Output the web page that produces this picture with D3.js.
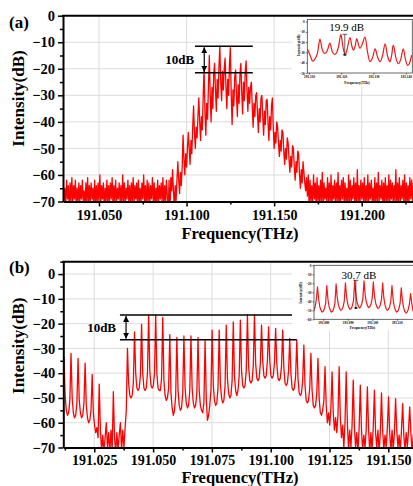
<!DOCTYPE html>
<html>
<head>
<meta charset="utf-8">
<script src="https://cdn.jsdelivr.net/npm/d3@7/dist/d3.min.js"></script>
<style>
  html, body { margin: 0; padding: 0; background: #fff; }
  svg { display: block; font-family: "Liberation Serif", "Times New Roman", Times, serif; }
</style>
</head>
<body>
<svg id="fig" width="413" height="486"></svg>
<script>
// ---------------- data ----------------
// Panel (a): spectrum sampled every 0.5 GHz starting at 191.0295 THz (dB)
const specAStart = 191.0295;
const specAStep = 0.0005;
const specALevels = [
  // noise floor, low-frequency side
  -63,-70,-65,-71,-62,-69,-64,-72,-63,-70,-61,-71,-64,-69,-62,-72,-65,-70,-63,-71,
  -64,-69,-62,-70,-66,-72,-63,-70,-61,-71,-64,-70,-63,-69,-65,-72,-62,-70,-64,-71,
  -63,-70,-60,-71,-64,-69,-63,-72,-65,-70,-62,-71,-64,-70,-63,-69,-61,-72,-64,-70,
  -62,-71,-65,-69,-63,-70,-64,-72,-60,-70,-63,-71,-65,-69,-62,-70,-64,-72,-63,-70,
  -61,-71,-64,-69,-63,-72,-62,-70,-65,-71,-63,-69,-60,-70,-64,-72,-62,-70,-63,-71,
  -64,-69,-61,-70,-63,-72,-65,-70,-62,-71,-64,-69,-63,-70,-61,-72,-64,-70,-62,
  -68,-75,-62,-76,-61,-66,
  // comb lines (3 GHz spacing)
  -58,-66,-72,-64,-70,-62,
  -55,-62,-67,-59,-64,-57,
  -45,-54,-60,-52,-57,-50,
  -44,-50,-56,-47,-52,-42,
  -34,-44,-50,-42,-46,-38,
  -31,-40,-47,-38,-43,-30,
  -20,-36,-45,-33,-39,-26,
  -15,-30,-40,-27,-35,-22,
  -18,-28,-36,-24,-31,-19,
  -11.5,-25,-32,-21,-28,-20,
  -16,-27,-35,-24,-30,-18,
  -12,-30,-41,-28,-34,-23,
  -20.5,-30,-38,-26,-33,-22,
  -18,-29,-37,-25,-32,-21,
  -17,-28,-36,-27,-33,-27,
  -25,-34,-42,-33,-38,-30,
  -29,-37,-44,-35,-40,-31,
  -30,-38,-45,-36,-41,-32,
  -31.5,-40,-47,-38,-43,-34,
  -31,-42,-50,-44,-48,-40,
  -42,-48,-53,-47,-51,-43,
  -44,-51,-56,-50,-54,-46,
  -48,-54,-59,-53,-57,-49,
  -50,-57,-62,-55,-59,-51,
  -52,-60,-65,-58,-63,-55,
  -59,-63,-66,-61,-68,-60,
  // noise floor, high-frequency side
  -72,-62,-70,-64,-71,-60,-69,-63,-72,-61,-70,-64,-71,-62,-70,-59,-72,-63,-69,-65,
  -70,-61,-71,-63,-70,-60,-72,-64,-69,-62,-71,-63,-70,-59,-72,-64,-70,-62,-69,-61,
  -71,-63,-70,-65,-72,-60,-70,-62,-71,-64,-69,-61,-70,-63,-72,-58,-70,-64,-71,-62,
  -69,-63,-70,-61,-72,-64,-70,-60,-71,-63,-69,-62,-70,-65,-72,-61,-70,-63,-71,-59,
  -70,-64,-69,-62,-72,-63,-70,-61,-71,-64,-70,-60,-72,-62,-69,-63,-71,-64,-70,-58,
  -72,-63,-70,-61,-71,-64,-69,-62,-70,-60,-72,-63,-70,-64,-71,-61,-69,-62,-70,-63,
  -72,-61,-70,-64,-71,-62
];

// Panel (b): spectrum sampled every 0.5 GHz starting at 191.0116 THz (dB)
const specBStart = 191.0116;
const specBStep = 0.0005;
const specBLevels = [
  -50,
  -33.4,-49,-55,-57,-56,-51,
  -32,-50,-56,-58,-57,-52,
  -34,-51,-56,-58,-57,-52,
  -36,-53,-58,-60,-59,-55,
  -40.5,-56,-61,-64,-62,-66,
  -44.4,-63,-71,-65,-72,-66,
  -60,-70,-64,-72,-63,-71,
  -47.5,-66,-72,-64,-71,-65,
  -60,-71,-63,-70,-62,-55,
  -30,-44,-49,-50,-49,-44,
  -23.3,-40,-46,-47,-46,-41,
  -20.3,-40,-46,-47,-46,-40,
  -16.5,-39,-45,-46,-45,-40,
  -16.5,-40,-46,-47,-47,-42,
  -17.5,-43,-49,-51,-50,-46,
  -24.4,-48,-54,-57,-55,-49,
  -25.6,-47,-53,-55,-54,-48,
  -25,-46,-52,-54,-53,-47,
  -25,-46,-52,-54,-53,-48,
  -25.6,-47,-53,-55,-56,-52,
  -26.7,-50,-59,-57,-53,-47,
  -22.6,-45,-51,-53,-52,-46,
  -22.6,-44,-50,-52,-51,-45,
  -20.6,-42,-48,-50,-49,-43,
  -19.3,-41,-47,-49,-47,-41,
  -18.6,-39,-45,-46,-45,-39,
  -16.5,-37,-43,-44,-43,-37,
  -16.5,-36,-42,-43,-42,-36,
  -20.6,-35,-41,-42,-41,-35,
  -21.3,-35,-41,-42,-41,-36,
  -21.9,-36,-42,-43,-42,-37,
  -22.6,-38,-44,-45,-44,-39,
  -26,-40,-46,-47,-46,-41,
  -26.7,-42,-48,-49,-48,-43,
  -28.7,-45,-51,-52,-51,-46,
  -32,-47,-53,-54,-53,-48,
  -34,-50,-56,-57,-55,-51,
  -37.4,-53,-60,-56,-61,-54,
  -39.5,-56,-63,-58,-64,-57,
  -37.4,-58,-66,-61,-70,-60,
  -39.5,-60,-71,-63,-70,-61,
  -42.8,-62,-70,-64,-72,-62,
  -44.8,-63,-71,-65,-70,-63,
  -45.5,-62,-72,-64,-71,-62,
  -46.9,-64,-70,-63,-72,-64,
  -48,-63,-71,-65,-70,-62,
  -49.6,-64,-72,-63,-71,-64,
  -50.3,-63,-70,-65,-72,-63,
  -52.3,-65,-71,-64,-70,-63,
  -53.6,-64,-72,-65,-71,-64,
  -55,-66
];

// Inset of (a): high-resolution trace, [frequency THz, dB]
const insetAPoints = [
  [191.1096,-27],[191.1104,-33],[191.1112,-38.5],[191.1120,-36],[191.1127,-30],
  [191.1134,-17],[191.1141,-27],[191.1150,-31],[191.1157,-28],[191.1165,-21],
  [191.1172,-29],[191.1179,-32],[191.1186,-30],[191.1192,-24],[191.1199,-12.4],
  [191.1205,-24],[191.1212,-32.3],[191.1219,-26],[191.1227,-15.5],[191.1233,-24],
  [191.1238,-27.7],[191.1243,-24],[191.1248,-16.5],[191.1253,-22],[191.1258,-26],
  [191.1265,-22],[191.1274,-15],[191.1281,-29],[191.1289,-39],[191.1297,-35],
  [191.1305,-26.6],[191.1312,-34],[191.1320,-39],[191.1328,-33],[191.1336,-21.6],
  [191.1343,-33],[191.1351,-39],[191.1356,-33],[191.1361,-23],[191.1369,-35],
  [191.1377,-41],[191.1384,-37],[191.1392,-26.6],[191.1399,-37],[191.1406,-42.6],
  [191.1412,-40],[191.1418,-32.7]
];

// Inset of (b): trace sampled every 0.475 GHz starting at 191.0762 THz (dB)
const insetBStart = 191.0762;
const insetBStep = 0.000475;
const insetBLevels = [
  -50,-46,-38,
  -24,-38,-46,-50,-52,-51,-48,-42,
  -22.6,-38,-46,-50,-52,-51,-48,-42,
  -20.7,-36,-44,-48,-50,-49,-46,-40,
  -19.6,-35,-43,-47,-49,-48,-45,-39,
  -16.7,-33,-41,-45,-47.4,-46.5,-43,-37,
  -17.2,-33,-41,-45,-47,-46,-43,-37,
  -18.5,-34,-42,-46,-48,-47,-44,-38,
  -19.6,-36,-44,-48,-50,-49,-46,-40,
  -22.6,-38,-46,-50,-52,-51,-48,-42,
  -25,-39,-47,-51,-53,-52,-49,-43,
  -31.5,-42,-50,-53,-55,-54,-51,-45,
  -35
];

// Axis ticks
const freqTicksA = [191.05, 191.10, 191.15, 191.20];
const freqMinorA = [191.075, 191.125, 191.175, 191.225];
const freqTicksB = [191.025, 191.05, 191.075, 191.10, 191.125, 191.15];
const freqMinorB = [191.0125, 191.0375, 191.0625, 191.0875, 191.1125, 191.1375, 191.1625];
const dbTicksA = [0, -10, -20, -30, -40, -50, -60, -70];
const dbMinorA = [-5, -15, -25, -35, -45, -55, -65];
const dbTicksB = [0, -10, -20, -30, -40, -50, -60, -70];
const dbMinorB = [5, -5, -15, -25, -35, -45, -55, -65];
const insetAFreqTicks = [191.11, 191.12, 191.13, 191.14];
const insetADbTicks = [0, -10, -20, -30, -40, -50];
const insetBFreqTicks = [191.08, 191.09, 191.10, 191.11];
const insetBDbTicks = [0, -10, -20, -30, -40, -50, -60];

// Peak-to-peak / peak-to-valley spans (dB)
const spanA = [-11.5, -21.5];
const spanB = [-16.5, -26.5];
const spanInsetA = [-12.4, -32.3];
const spanInsetB = [-16.7, -47.4];

// ---------------- drawing ----------------
const svg = d3.select("#fig");
const defs = svg.append("defs");
defs.append("marker")
  .attr("id", "arrowHead")
  .attr("viewBox", "0 0 10 10")
  .attr("refX", 10).attr("refY", 5)
  .attr("markerUnits", "userSpaceOnUse")
  .attr("markerWidth", 6).attr("markerHeight", 6)
  .attr("orient", "auto-start-reverse")
  .append("path").attr("d", "M0,0L10,5L0,10Z").attr("fill", "#000");

const RED = "#ff0000";
const fmt3 = d3.format(".3f");
const fmtDb = d => (d === 0 ? "0" : d3.format("d")(d));

function styleAxis(sel, fontSize, domainWidth, tickWidth) {
  sel.select(".domain").attr("stroke", "#000").attr("stroke-width", domainWidth);
  sel.selectAll(".tick line").attr("stroke", "#000").attr("stroke-width", tickWidth);
  sel.selectAll(".tick text")
    .attr("fill", "#000")
    .style("font-family", '"Liberation Serif", "Times New Roman", serif')
    .style("font-weight", "bold")
    .style("font-size", fontSize + "px");
}

function drawMain(o) {
  const g = svg.append("g");
  const x = d3.scaleLinear().domain(o.xDomain).range([o.left, o.right]);
  const y = d3.scaleLinear().domain(o.yDomain).range([o.bottom, o.top]);

  // grid
  g.append("g").selectAll("line").data(o.xTicks).join("line")
    .attr("x1", d => x(d)).attr("x2", d => x(d))
    .attr("y1", o.top).attr("y2", o.bottom)
    .attr("stroke", "#dcdcdc").attr("stroke-width", 1);
  g.append("g").selectAll("line").data(o.yTicks.filter(d => d > o.yDomain[0] && d < o.yDomain[1])).join("line")
    .attr("x1", o.left).attr("x2", o.right)
    .attr("y1", d => y(d)).attr("y2", d => y(d))
    .attr("stroke", "#dcdcdc").attr("stroke-width", 1);

  // trace
  const clipId = o.id + "Clip";
  defs.append("clipPath").attr("id", clipId).append("rect")
    .attr("x", o.left).attr("y", o.top)
    .attr("width", o.right - o.left).attr("height", o.bottom - o.top);
  const line = d3.line()
    .x((d, i) => x(o.start + i * o.step))
    .y(d => y(d));
  g.append("path").datum(o.levels)
    .attr("clip-path", `url(#${clipId})`)
    .attr("d", line)
    .attr("fill", "none")
    .attr("stroke", RED)
    .attr("stroke-width", 1.3)
    .attr("stroke-linejoin", "round");

  // axes
  const xAxis = g.append("g").attr("transform", `translate(0,${o.bottom})`)
    .call(d3.axisBottom(x).tickValues(o.xTicks).tickFormat(fmt3).tickSize(5).tickSizeOuter(0).tickPadding(o.xPad));
  styleAxis(xAxis, 14, 2, 1.5);
  const xMinor = g.append("g").attr("transform", `translate(0,${o.bottom})`)
    .call(d3.axisBottom(x).tickValues(o.xMinor).tickFormat("").tickSize(3).tickSizeOuter(0));
  xMinor.select(".domain").remove();
  xMinor.selectAll(".tick line").attr("stroke", "#000").attr("stroke-width", 1.5);

  const yAxis = g.append("g").attr("transform", `translate(${o.left},0)`)
    .call(d3.axisLeft(y).tickValues(o.yTicks).tickFormat(fmtDb).tickSize(5).tickSizeOuter(0).tickPadding(3));
  styleAxis(yAxis, 14.5, 2, 1.5);
  const yMinor = g.append("g").attr("transform", `translate(${o.left},0)`)
    .call(d3.axisLeft(y).tickValues(o.yMinor).tickFormat("").tickSize(3).tickSizeOuter(0));
  yMinor.select(".domain").remove();
  yMinor.selectAll(".tick line").attr("stroke", "#000").attr("stroke-width", 1.5);

  // top frame
  g.append("line").attr("x1", o.left - 1).attr("x2", o.right)
    .attr("y1", o.top).attr("y2", o.top)
    .attr("stroke", "#000").attr("stroke-width", 2);

  // titles
  g.append("text").attr("x", 240).attr("y", o.xTitleY)
    .attr("text-anchor", "middle")
    .style("font-weight", "bold").style("font-size", "16.5px")
    .text("Frequency(THz)");
  g.append("text")
    .attr("transform", `translate(23.5,${o.yTitleY}) rotate(-90)`)
    .attr("text-anchor", "middle")
    .style("font-weight", "bold").style("font-size", "17px")
    .text("Intensity(dB)");
  g.append("text").attr("x", 9).attr("y", o.tagY)
    .style("font-weight", "bold").style("font-size", "17px")
    .text(o.tag);

  // contrast marker
  const span = o.span;
  [span[0], span[1]].forEach(v => {
    g.append("line")
      .attr("x1", x(o.spanFrom)).attr("x2", x(o.spanTo))
      .attr("y1", y(v)).attr("y2", y(v))
      .attr("stroke", "#000").attr("stroke-width", 1.5);
  });
  g.append("line")
    .attr("x1", x(o.spanArrow)).attr("x2", x(o.spanArrow))
    .attr("y1", y(span[0]) + 1).attr("y2", y(span[1]) - 1)
    .attr("stroke", "#000").attr("stroke-width", 1.2)
    .attr("marker-start", "url(#arrowHead)")
    .attr("marker-end", "url(#arrowHead)");
  g.append("text")
    .attr("x", x(o.spanArrow) - 10)
    .attr("y", (y(span[0]) + y(span[1])) / 2 + 4.3)
    .attr("text-anchor", "end")
    .style("font-weight", "bold").style("font-size", "13px")
    .text(`${Math.round(span[0] - span[1])}dB`);

  return { x, y };
}

function drawInset(o) {
  const g = svg.append("g");
  g.append("rect").attr("x", o.bg[0]).attr("y", o.bg[1])
    .attr("width", o.bg[2]).attr("height", o.bg[3]).attr("fill", "#fff");
  const x = d3.scaleLinear().domain(o.xDomain).range([o.left, o.right]);
  const y = d3.scaleLinear().domain(o.yDomain).range([o.bottom, o.top]);

  const clipId = o.id + "Clip";
  defs.append("clipPath").attr("id", clipId).append("rect")
    .attr("x", o.left).attr("y", o.top)
    .attr("width", o.right - o.left).attr("height", o.bottom - o.top);

  let line, data;
  if (o.points) {
    data = o.points;
    line = d3.line().x(d => x(d[0])).y(d => y(d[1])).curve(d3.curveMonotoneX);
  } else {
    data = o.levels;
    line = d3.line().x((d, i) => x(o.start + i * o.step)).y(d => y(d));
  }
  g.append("path").datum(data)
    .attr("clip-path", `url(#${clipId})`)
    .attr("d", line)
    .attr("fill", "none")
    .attr("stroke", o.color)
    .attr("stroke-width", 1.2)
    .attr("stroke-linejoin", "round");

  // frame
  g.append("rect").attr("x", o.left).attr("y", o.top)
    .attr("width", o.right - o.left).attr("height", o.bottom - o.top)
    .attr("fill", "none").attr("stroke", "#444").attr("stroke-width", 0.8);

  const xAxis = g.append("g").attr("transform", `translate(0,${o.bottom})`)
    .call(d3.axisBottom(x).tickValues(o.xTicks).tickFormat(fmt3).tickSize(1.5).tickSizeOuter(0).tickPadding(1));
  styleAxis(xAxis, 3.4, 0, 0.6);
  const yAxis = g.append("g").attr("transform", `translate(${o.left},0)`)
    .call(d3.axisLeft(y).tickValues(o.yTicks).tickFormat(fmtDb).tickSize(1.5).tickSizeOuter(0).tickPadding(1));
  styleAxis(yAxis, 3.4, 0, 0.6);

  g.append("text").attr("x", o.xTitle[0]).attr("y", o.xTitle[1])
    .attr("text-anchor", "middle")
    .style("font-weight", "bold").style("font-size", "3.6px")
    .text("Frequency(THz)");
  g.append("text")
    .attr("transform", `translate(${o.yTitle[0]},${o.yTitle[1]}) rotate(-90)`)
    .attr("text-anchor", "middle")
    .style("font-weight", "bold").style("font-size", "3.8px")
    .text("Intensity(dB)");

  // measured span
  const s = o.span;
  const mx = x(o.spanX);
  g.append("line").attr("x1", mx).attr("x2", mx)
    .attr("y1", y(s[0])).attr("y2", y(s[1]))
    .attr("stroke", "#222").attr("stroke-width", 0.7);
  g.append("line").attr("x1", mx - 2.5).attr("x2", mx + 2.5)
    .attr("y1", y(s[0])).attr("y2", y(s[0]))
    .attr("stroke", "#222").attr("stroke-width", 0.7);
  g.append("line").attr("x1", mx - 2).attr("x2", mx + 2)
    .attr("y1", y(s[1])).attr("y2", y(s[1]))
    .attr("stroke", "#222").attr("stroke-width", 0.7);
  g.append("rect").attr("x", mx - 1).attr("y", y(s[1]) - 1)
    .attr("width", 2).attr("height", 2).attr("fill", "#222");
  g.append("text").attr("x", o.labelPos[0]).attr("y", o.labelPos[1])
    .attr("text-anchor", "middle")
    .style("font-size", "11px")
    .text(`${(s[0] - s[1]).toFixed(1)} dB`);
}

// Panel (a)
drawMain({
  id: "panelA", tag: "(a)", tagY: 27.5,
  left: 63, right: 418, top: 15.7, bottom: 201.5,
  xDomain: [191.02944, 191.23215], yDomain: [-70, 0],
  xTicks: freqTicksA, xMinor: freqMinorA, yTicks: dbTicksA, yMinor: dbMinorA,
  start: specAStart, step: specAStep, levels: specALevels,
  xPad: 4, xTitleY: 238.5, yTitleY: 98.5,
  span: spanA, spanFrom: 191.1048, spanTo: 191.1378, spanArrow: 191.1101
});

// Panel (b)
drawMain({
  id: "panelB", tag: "(b)", tagY: 272.5,
  left: 63.3, right: 418, top: 261.7, bottom: 447.5,
  xDomain: [191.01182, 191.16263], yDomain: [-70, 5],
  xTicks: freqTicksB, xMinor: freqMinorB, yTicks: dbTicksB, yMinor: dbMinorB,
  start: specBStart, step: specBStep, levels: specBLevels,
  xPad: 3, xTitleY: 483.2, yTitleY: 345.8,
  span: spanB, spanFrom: 191.0359, spanTo: 191.1111, spanArrow: 191.0385
});

// Inset of (a)
drawInset({
  id: "insetA", bg: [292, 17.5, 121, 69],
  left: 307.3, right: 412.3, top: 19.5, bottom: 73,
  xDomain: [191.1095, 191.1420], yDomain: [-50, 2],
  xTicks: insetAFreqTicks, yTicks: insetADbTicks,
  points: insetAPoints, color: "#f01818",
  xTitle: [357, 83.5], yTitle: [299.5, 45.3],
  span: spanInsetA, spanX: 191.1211, labelPos: [346.7, 31]
});

// Inset of (b)
drawInset({
  id: "insetB", bg: [292, 263.2, 121, 67],
  left: 314, right: 420, top: 265.3, bottom: 319.3,
  xDomain: [191.0762, 191.11947], yDomain: [-60, 0],
  xTicks: insetBFreqTicks, yTicks: insetBDbTicks,
  start: insetBStart, step: insetBStep, levels: insetBLevels, color: "#f01818",
  xTitle: [362.5, 328.5], yTitle: [301.5, 293],
  span: spanInsetB, spanX: 191.0933, labelPos: [359, 279.3]
});
</script>
</body>
</html>
